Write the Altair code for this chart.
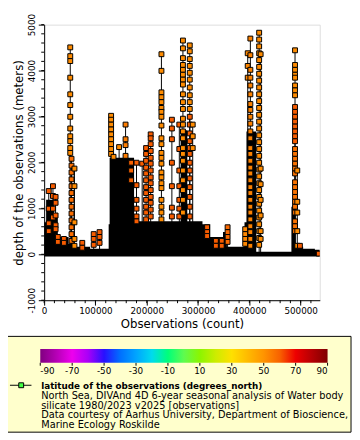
import altair as alt
import pandas as pd

# ---------------- data ----------------
# observation profiles: position (count), latitude, depths of the plotted observations
prof_count = [8950, 17145, 22290, 26670, 38480, 50860, 53340, 59055, 74295, 96580,
              108010, 130500, 135255, 146110, 158690, 169545, 180020, 191070, 198690, 207645,
              228600, 248980, 263460, 270510, 283845, 283845, 289560, 317560, 334710, 346140,
              357570, 391860, 396810, 401955, 419100, 421958, 489010, 489010, 489010, 493395,
              498540, 535305]
prof_lat = [61, 61, 61, 61, 61, 52, 58, 52, 61, 61,
            61, 52, 52, 52, 55, 60, 61, 61, 61, 61,
            52, 61, 61, 52, 52, 61, 52, 61, 61, 61,
            59, 53, 53, 54, 52, 52, 52, 61, 57, 52,
            61, 61]
prof_depths = [
    [1377, 994, 675, 504],
    [1483, 1270, 994, 802],
    [1249, 1121, 845, 632, 547],
    [377, 270],
    [334, 249],
    [4505, 4314, 4207, 3845, 3483, 3249, 2994, 2739, 2569, 2462, 2313, 2207],
    [2079, 1930, 1781, 1632, 1483, 1334, 1185, 1036, 887, 738, 589, 440, 292],
    [1866, 1483, 696, 334, 185],
    [249, 143],
    [440, 334, 206],
    [483, 377, 249],
    [3015, 2930, 2824, 2718, 2611, 2505, 2398, 2292, 2185],
    [2122],
    [2334],
    [2824, 2505, 2377, 2143],
    [1994, 1824, 1611],
    [1994, 1505, 1185, 994, 824, 717],
    [1973],
    [2313, 2185, 2036, 1888, 1760, 1611, 1462, 1334, 1185, 1036, 909, 760],
    [2611, 2526, 2398, 2249, 2100, 1973, 1824, 1675, 1547, 1398, 1249, 1121, 972, 824],
    [4356, 3994, 3526, 3420, 3313, 3186, 3100, 2994, 2803, 2526, 2398, 2207, 2100, 1973,
     1781, 1675, 1547, 1441, 1185, 1036, 909, 760],
    [2930, 2739, 2505, 1994, 1483, 1015, 824],
    [2824, 2292, 1824, 1483, 1185, 994, 824],
    [4654, 4484, 4271, 4122, 4016, 3909, 3803, 3696, 3483, 3313, 3164, 2952, 2824, 2675,
     2526, 2313, 2185, 2036, 1824, 1611, 1398, 1185, 909],
    [4548, 4420, 4250, 4101, 3952, 3803, 3632, 3462, 3313, 3164],
    [2994, 2824, 2632, 2462, 2313, 2185, 1994, 1824, 1653, 1462, 1249, 1036, 824],
    [2824, 2569, 2313],
    [589, 483, 398],
    [292, 185],
    [292, 185],
    [589, 483, 377, 270],
    [547, 440, 334, 228],
    [4377, 4101, 3845],
    [4697, 4335, 4016, 3845, 3675, 3483, 3271, 3143, 2994, 2845, 2675, 2526, 2313, 2185,
     2036, 1888, 1760, 1611, 1462, 1334, 1185, 1036, 909, 760, 611, 483, 334, 185],
    [4824, 4675, 4526, 4377, 4228, 4079, 3930, 3781, 3632, 3483, 3335, 3186, 3037, 2888,
     2739, 2590, 2441, 2292, 2143, 1994, 1845, 1696, 1547, 1398, 1249, 1100, 951, 802,
     653, 504, 355, 206],
    [4356, 1866, 1526, 1185, 845, 504, 334],
    [4441, 4122, 4016, 3909, 3845, 3675, 3569, 3462],
    [3207, 3100, 2994, 2888, 2781, 2675, 2569, 2462],
    [2292, 2185, 2079, 1973, 1866, 1760, 1568, 1462, 1356, 1249, 1143, 1036, 909, 717,
     611, 504],
    [1824, 1143, 909, 504, 185],
    [185],
    [15],
]

# dense mass of overlapping observation lines (upper envelope, step-wise)
env_count = [0, 3810, 19050, 26670, 47625, 60960, 89535, 125730, 127635, 175260,
             266000, 279000, 308610, 323850, 348615, 356235, 390525, 394335, 413385,
             481965, 489585, 504825, 527685, 537210]
env_top = [696, 1185, 866, 377, 228, 164, 121, 653, 2100, 717,
           2700, 717, 653, 377, 483, 164, 696, 2675, 57,
           1036, 164, 121, 100, 100]
env_base = -50

x_domain = [0, 537210]
y_domain = [-1000, 5000]
x_major = [0, 100000, 200000, 300000, 400000, 500000]
y_major = [-1000, 0, 1000, 2000, 3000, 4000, 5000]
x_minor = list(range(0, 540000, 20000))
y_minor = list(range(-1000, 5001, 200))

lat_stops = [-90, -70, -50, -30, -10, 10, 30, 50, 70, 90]
lat_colors = ["#800080", "#ee00ee", "#2810ff", "#00a4ff", "#00ff7a",
              "#8cf500", "#ffe000", "#ff9400", "#ee0000", "#800000"]

legend_title = "latitude of the observations (degrees_north)"
legend_lines = [
    "North Sea, DIVAnd 4D 6-year seasonal analysis of Water body",
    "silicate 1980/2023 v2025 [observations]",
    "Data courtesy of Aarhus University, Department of Bioscience,",
    "Marine Ecology Roskilde",
]

# ---------------- tables ----------------
pt_rows = []
rule_rows = []
for c, lat, ds in zip(prof_count, prof_lat, prof_depths):
    for d in ds:
        pt_rows.append({"count": c, "depth": d, "lat": lat})
    rule_rows.append({"count": c, "top": max(ds), "bottom": 0})
pts_df = pd.DataFrame(pt_rows)
rule_df = pd.DataFrame(rule_rows)
env_df = pd.DataFrame({"count": env_count, "top": env_top, "base": [env_base] * len(env_count)})
xminor_df = pd.DataFrame({"count": x_minor})
yminor_df = pd.DataFrame({"depth": y_minor})
cbar_df = pd.DataFrame({"lat": lat_stops})
ann = pd.DataFrame({"k": [0]})

FONT = "DejaVu Sans"

xs = alt.Scale(domain=x_domain, nice=False, zero=False)
ys = alt.Scale(domain=y_domain, nice=False, zero=False)

x_axis = alt.Axis(
    values=x_major, labelExpr="datum.value + ''",
    tickSize=5, labelPadding=2, labelFontSize=9, labelFont=FONT, labelColor="black",
    labelFlush=False, labelOverlap=False,
    title="Observations (count)", titleFont=FONT, titleFontSize=12,
    titleFontWeight="normal", titleColor="black", titlePadding=3,
    grid=False, domainColor="black", tickColor="black",
)
y_axis = alt.Axis(
    values=y_major, labelExpr="datum.value + ''",
    tickSize=6, labelAngle=270, labelAlign="center", labelBaseline="bottom",
    labelPadding=2, labelFontSize=9, labelFont=FONT, labelColor="black",
    labelFlush=False, labelOverlap=False,
    title="depth of the observations (meters)", titleFont=FONT, titleFontSize=12,
    titleFontWeight="normal", titleColor="black", titlePadding=2,
    grid=False, domainColor="black", tickColor="black",
)

env = alt.Chart(env_df).mark_area(color="black", interpolate="step-after", clip=True).encode(
    x=alt.X("count:Q", scale=xs, axis=x_axis),
    y=alt.Y("top:Q", scale=ys, axis=y_axis),
    y2="base:Q",
)

rules = alt.Chart(rule_df).mark_rule(color="black", strokeWidth=1, clip=True).encode(
    x=alt.X("count:Q", scale=xs),
    y=alt.Y("top:Q", scale=ys),
    y2="bottom:Q",
)

pts = alt.Chart(pts_df).mark_square(size=25, stroke="black", strokeWidth=1, opacity=1, clip=True).encode(
    x=alt.X("count:Q", scale=xs),
    y=alt.Y("depth:Q", scale=ys),
    fill=alt.Fill(
        "lat:Q",
        scale=alt.Scale(domain=lat_stops, range=lat_colors),
        legend=alt.Legend(
            orient="none", legendX=-4, legendY=332, direction="horizontal",
            gradientLength=294, gradientThickness=14, title=None,
            values=lat_stops, labelExpr="datum.value + ''",
            labelFontSize=9, labelFont=FONT, labelColor="black",
            labelAlign="center", labelOffset=4, labelOverlap=False,
            padding=0, gradientStrokeWidth=0,
        ),
    ),
)

xminor = alt.Chart(xminor_df).mark_rule(color="black", strokeWidth=1).encode(
    x=alt.X("count:Q", scale=xs), y=alt.value(282), y2=alt.value(285)
)
yminor = alt.Chart(yminor_df).mark_rule(color="black", strokeWidth=1).encode(
    y=alt.Y("depth:Q", scale=ys), x=alt.value(0), x2=alt.value(-3)
)

box = alt.Chart(ann).mark_rect(fill="#ffffcc", stroke="black", strokeWidth=1).encode(
    x=alt.value(-45), x2=alt.value(314), y=alt.value(319), y2=alt.value(417)
)
sym_line = alt.Chart(ann).mark_rule(color="black", strokeWidth=1).encode(
    x=alt.value(-35), x2=alt.value(-13), y=alt.value(369)
)
sym_pt = alt.Chart(ann).mark_square(size=25, fill="#44ff44", stroke="black", strokeWidth=1, opacity=1).encode(
    x=alt.value(-23.5), y=alt.value(369)
)
title_txt = alt.Chart(ann).mark_text(
    align="left", baseline="alphabetic", font=FONT, fontSize=9, fontWeight="bold", color="black"
).encode(x=alt.value(-3), y=alt.value(372.5), text=alt.value(legend_title))
body_txt = alt.Chart(ann).mark_text(
    align="left", baseline="alphabetic", font=FONT, fontSize=10, lineHeight=9.7, color="black"
).encode(x=alt.value(-3), y=alt.value(383.5), text=alt.value(legend_lines))

main = alt.layer(env, rules, pts, xminor, yminor, box, sym_line, sym_pt, title_txt, body_txt)

# small tick marks under the colour bar, placed by a latitude scale spanning the bar
cbar_ticks = alt.Chart(cbar_df).mark_rule(color="black", strokeWidth=1).encode(
    x=alt.X("lat:Q", scale=alt.Scale(domain=[-90, 90], range=[-4, 290], nice=False, zero=False), axis=None),
    y=alt.value(346), y2=alt.value(349),
)

chart = alt.layer(main, cbar_ticks).resolve_scale(x="independent").properties(
    width=282, height=282,
    autosize=alt.AutoSizeParams(type="none"),
    padding={"left": 37, "top": 12, "right": 33, "bottom": 138},
    background="white",
).configure_view(fill="#ccccff", stroke="black", strokeWidth=1).configure(font=FONT)

chart.save("out.html", embed_options={"renderer": "svg", "actions": False})
